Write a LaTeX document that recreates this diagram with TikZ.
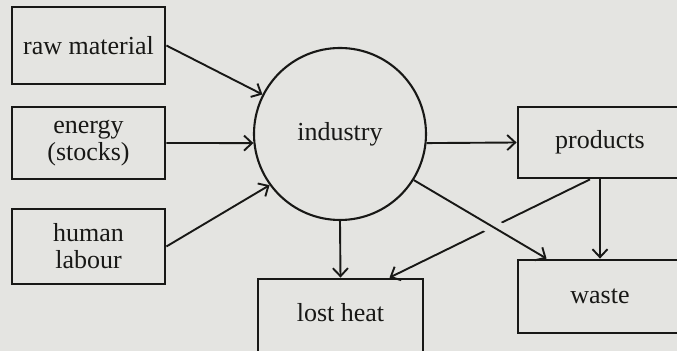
\documentclass[tikz,border=0pt]{standalone}
\usepackage{fontspec}
\setmainfont{Liberation Serif}
\usepackage{xcolor}
\usetikzlibrary{arrows.meta, calc}

\definecolor{paper}{RGB}{228,228,225}
\definecolor{ink}{RGB}{24,24,22}

\begin{document}
\begin{tikzpicture}[x=0.5pt, y=-0.5pt, color=ink,
    >={Straight Barb[length=4pt,width=7.5pt]},
    box/.style={draw, line width=1.4pt, align=center, inner sep=0pt,
                font=\fontsize{13}{13.5}\selectfont},
    flow/.style={->, line width=0.95pt}]

    % --- Page ---
    % grey paper tone, boxes on the right and bottom run off the edge
    \fill[paper] (0,0) rectangle (677,351);
    \useasboundingbox (0,0) rectangle (677,351);
    \clip (0,0) rectangle (677,351);

    % --- Inputs (left column) ---
    \node[box, minimum width=76.5pt, minimum height=38.5pt] (raw) at (88.5,45.5) {raw material};
    \node[box, minimum width=76.5pt, minimum height=36pt] (energy) at (88.5,143) {energy\\(stocks)};
    \node[box, minimum width=76.5pt, minimum height=37.5pt] (labour) at (88.5,246.5) {human\\labour};

    % --- Industry ---
    \node[draw, circle, line width=1.05pt, minimum size=86pt, inner sep=0pt,
          font=\fontsize{13}{13.5}\selectfont] (industry) at (340,134) {industry};

    % --- Outputs ---
    \node[box, minimum width=82pt, minimum height=35.5pt] (products) at (600,142.5) {products};
    \node[box, minimum width=82pt, minimum height=36.5pt] (waste) at (600,296.5) {waste};
    \node[box, minimum width=82.5pt, minimum height=40pt, text depth=6.5pt] (lostheat) at (340.5,319) {lost heat};

    % --- Flows into industry ---
    \draw[flow] (raw.east) -- (industry.153);
    \draw[flow] (energy.east) -- (industry.186);
    \draw[flow] (labour.east) -- (industry.216);

    % --- Flows out of industry ---
    \draw[flow] (industry.-6) -- (products.west);
    \draw[flow] (industry.south) -- (lostheat.north);
    \draw[flow] (products.south) -- (waste.north);

    % --- Crossing flows ---
    % products -> lost heat is broken where industry -> waste passes over it
    \coordinate (heatin) at ($(lostheat.north)+(49,0)$);
    \coordinate (wastein) at ($(waste.north west)+(30,0)$);
    \draw[flow] ($(products.south)+(-10,0)$) -- (heatin);
    \draw[paper, line width=8pt] ($(industry.-32)!0.55!(wastein)$) -- ($(industry.-32)!0.69!(wastein)$);
    \draw[flow] (industry.-32) -- (wastein);

\end{tikzpicture}
\end{document}
